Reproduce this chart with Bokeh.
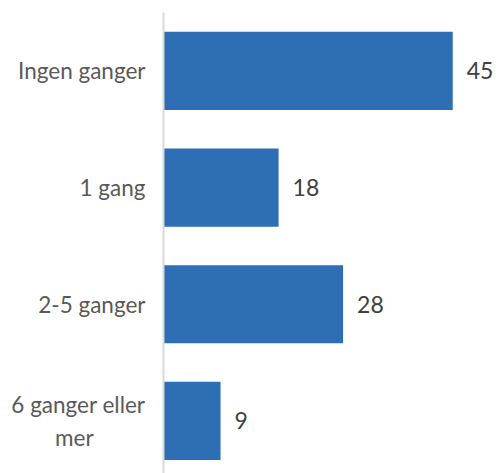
from bokeh.plotting import figure
from bokeh.models import Range1d, FixedTicker, ColumnDataSource
from bokeh.embed import file_html
from bokeh.resources import INLINE
from bokeh.core.properties import value

categories = ["Ingen ganger", "1 gang", "2-5 ganger", "6 ganger eller\nmer"]
values = [45, 18, 28, 9]

n = len(categories)
ypos = [n - i - 0.5 for i in range(n)]
source = ColumnDataSource(dict(y=ypos, v=values, lab=[str(v) for v in values]))

W, H = 496, 473
frame_left, frame_top = 163, 12
px_per_unit = 6.45
slot_px = 116.7
x_start = 1 / px_per_unit
x_end = x_start + (W - frame_left) / px_per_unit
y_start = n - (H - frame_top) / slot_px

p = figure(width=W, height=H, output_backend="svg", toolbar_location=None,
           x_range=Range1d(x_start, x_end), y_range=Range1d(y_start, n),
           min_border_left=frame_left, min_border_right=0, min_border_top=frame_top, min_border_bottom=0)
p.outline_line_color = None
p.grid.visible = False
p.xaxis.visible = False

p.hbar(y="y", right="v", left=0, height=0.67, source=source, color="#2E6EB5", line_color=None)
p.text(x="v", y="y", text="lab", source=source, x_offset=14, text_baseline="middle",
       text_align="left", text_font=value("Lato"), text_font_size="23px", text_color="#404040")

labels = [c if "\n" not in c else c.split("\n")[0] + "\n" + c.split("\n")[1] + " " * 9 for c in categories]

ya = p.yaxis[0]
ya.ticker = FixedTicker(ticks=ypos)
ya.major_label_overrides = {y: c for y, c in zip(ypos, labels)}
ya.major_tick_line_color = None
ya.minor_tick_line_color = None
ya.axis_line_color = "#d9d9d9"
ya.axis_line_width = 2
ya.major_label_text_font = "Lato"
ya.major_label_text_font_size = "22.5px"
ya.major_label_text_color = "#595959"
ya.major_label_standoff = 12

open("out.html", "w").write(file_html(p, INLINE))
